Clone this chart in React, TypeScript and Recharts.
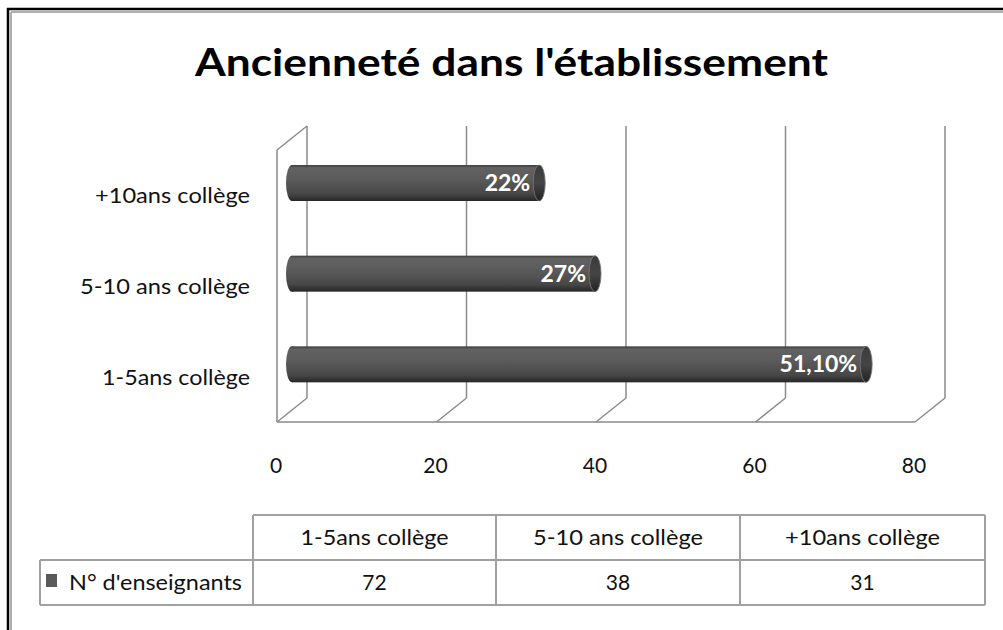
import React from 'react';
import { BarChart, Bar, XAxis, YAxis, CartesianGrid, LabelList } from 'recharts';

// ---- data ----
const categories = ['1-5ans collège', '5-10 ans collège', '+10ans collège'];
const teacherCounts = [72, 38, 31];
const percentLabels = ['51,10%', '27%', '22%'];
const xTicks = [0, 20, 40, 60, 80];
const seriesName = "N° d'enseignants";
const chartTitle = "Ancienneté dans l'établissement";

const data = categories.map((c, i) => ({ cat: c, value: teacherCounts[i], pct: percentLabels[i] }));

// ---- styling ----
const FONT = 'Lato, "Open Sans", sans-serif';
const DX = 15; // half depth offset x
const DY = 12; // half depth offset y
const GRID = '#8a8a8a';
const catWidths: Record<string, number> = {
  '1-5ans collège': 148,
  '5-10 ans collège': 170,
  '+10ans collège': 155,
};

const gridLine = (p: any) => {
  const { x1, y1, y2, x, width, index } = p;
  const first = Math.abs(x1 - x) < 0.5;
  return (
    <g key={`vg-${index}`}>
      <line x1={x1 + DX} y1={y1 - DY} x2={x1 + DX} y2={y2 - DY} stroke={GRID} strokeWidth={1.5} />
      <line x1={x1 + DX} y1={y2 - DY} x2={x1 - DX} y2={y2 + DY} stroke={GRID} strokeWidth={1.5} />
      {first && (
        <g>
          <line x1={x1 - DX} y1={y1 + DY} x2={x1 - DX} y2={y2 + DY} stroke={GRID} strokeWidth={1.5} />
          <line x1={x1 - DX} y1={y1 + DY} x2={x1 + DX} y2={y1 - DY} stroke={GRID} strokeWidth={1.5} />
          <line x1={x1 - DX} y1={y2 + DY} x2={x + width - DX} y2={y2 + DY} stroke={GRID} strokeWidth={1.5} />
        </g>
      )}
    </g>
  );
};

const XTick = (p: any) => (
  <text x={p.x - DX - 1} y={473} textAnchor="middle" fontFamily={FONT} fontSize={21} fill="#111">
    {p.payload.value}
  </text>
);

const YTick = (p: any) => {
  const v = p.payload.value as string;
  return (
    <text
      x={250}
      y={p.y + DY + 8}
      textAnchor="end"
      fontFamily={FONT}
      fontSize={21}
      fill="#111"
      textLength={catWidths[v]}
      lengthAdjust="spacingAndGlyphs"
    >
      {v}
    </text>
  );
};

const Cylinder = (p: any) => {
  const { x, y, width, height, index } = p;
  const r = 6;
  const ry = height / 2;
  const cy = y + ry;
  const bid = `cylBody${index}`;
  const cid = `cylCap${index}`;
  return (
    <g>
      <defs>
        <linearGradient id={bid} x1="0" y1="0" x2="0" y2="1">
          <stop offset="0" stopColor="#3e3e3e" />
          <stop offset="0.08" stopColor="#626262" />
          <stop offset="0.4" stopColor="#5b5b5b" />
          <stop offset="0.8" stopColor="#474747" />
          <stop offset="1" stopColor="#262626" />
        </linearGradient>
        <linearGradient id={cid} x1="0" y1="0" x2="0" y2="1">
          <stop offset="0" stopColor="#3a3a3a" />
          <stop offset="0.5" stopColor="#454545" />
          <stop offset="1" stopColor="#222" />
        </linearGradient>
      </defs>
      <ellipse cx={x} cy={cy} rx={r} ry={ry} fill={`url(#${bid})`} />
      <rect x={x} y={y} width={width} height={height} fill={`url(#${bid})`} />
      <ellipse cx={x + width} cy={cy} rx={r} ry={ry} fill={`url(#${cid})`} stroke="#7a7a7a" strokeWidth={0.8} />
    </g>
  );
};

const PctLabel = (p: any) => {
  const { x, y, width, height, value } = p;
  return (
    <text
      x={x + width - 9}
      y={y + height / 2 + 8}
      textAnchor="end"
      fill="#ffffff"
      fontFamily={FONT}
      fontWeight={700}
      fontSize={23}
    >
      {value}
    </text>
  );
};

// table geometry (styling)
const colEdges = [253, 496, 740, 985];
const rowTop = 515;
const rowMid = 560;
const rowBot = 605;
const tableLeft = 40;
const TB = '#a0a0a0';

export default function App() {
  return (
    <div style={{ position: 'absolute', left: 0, top: 0, width: 1003, height: 630, background: '#fff', overflow: 'hidden' }}>
      <svg width={1003} height={630} style={{ position: 'absolute', left: 0, top: 0 }}>
        {/* frame */}
        <line x1={7} y1={9} x2={1003} y2={9} stroke="#000" strokeWidth={2.5} />
        <line x1={8} y1={8} x2={8} y2={630} stroke="#000" strokeWidth={2.5} />
        <line x1={11} y1={12} x2={1003} y2={12} stroke="#b0b0b0" strokeWidth={2} />
        <line x1={11} y1={12} x2={11} y2={630} stroke="#b0b0b0" strokeWidth={2} />
        {/* title */}
        <text
          x={195}
          y={76}
          fontFamily={FONT}
          fontWeight={700}
          fontSize={38}
          fill="#000"
          textLength={633}
          lengthAdjust="spacingAndGlyphs"
        >
          {chartTitle}
        </text>
        {/* data table */}
        <line x1={colEdges[0]} y1={rowTop} x2={colEdges[3]} y2={rowTop} stroke={TB} strokeWidth={2} />
        <line x1={tableLeft} y1={rowMid} x2={colEdges[3]} y2={rowMid} stroke={TB} strokeWidth={2} />
        <line x1={tableLeft} y1={rowBot} x2={colEdges[3]} y2={rowBot} stroke={TB} strokeWidth={2} />
        <line x1={tableLeft} y1={rowMid} x2={tableLeft} y2={rowBot} stroke={TB} strokeWidth={2} />
        {colEdges.map((cx) => (
          <line key={cx} x1={cx} y1={rowTop} x2={cx} y2={rowBot} stroke={TB} strokeWidth={2} />
        ))}
        {categories.map((c, i) => (
          <text
            key={c}
            x={(colEdges[i] + colEdges[i + 1]) / 2}
            y={545}
            textAnchor="middle"
            fontFamily={FONT}
            fontSize={21}
            fill="#111"
            textLength={catWidths[c]}
            lengthAdjust="spacingAndGlyphs"
          >
            {c}
          </text>
        ))}
        <rect x={46} y={574} width={11} height={13} fill="#5a5a5a" />
        <text x={69} y={590} fontFamily={FONT} fontSize={21} fill="#111" textLength={173} lengthAdjust="spacingAndGlyphs">
          {seriesName}
        </text>
        {teacherCounts.map((v, i) => (
          <text
            key={i}
            x={(colEdges[i] + colEdges[i + 1]) / 2}
            y={590}
            textAnchor="middle"
            fontFamily={FONT}
            fontSize={21}
            fill="#111"
          >
            {v}
          </text>
        ))}
      </svg>
      <div style={{ position: 'absolute', left: 0, top: 0 }}>
        <BarChart
          width={1003}
          height={630}
          data={data}
          layout="vertical"
          margin={{ top: 138, right: 73, bottom: 190, left: 0 }}
        >
          <CartesianGrid horizontal={false} vertical={gridLine} />
          <XAxis
            type="number"
            domain={[0, 80]}
            ticks={xTicks}
            height={30}
            axisLine={false}
            tickLine={false}
            tick={<XTick />}
            interval={0}
          />
          <YAxis
            type="category"
            dataKey="cat"
            width={292}
            reversed
            axisLine={false}
            tickLine={false}
            tick={<YTick />}
            interval={0}
          />
          <Bar dataKey="value" barSize={36} shape={<Cylinder />} isAnimationActive={false}>
            <LabelList dataKey="pct" content={<PctLabel />} />
          </Bar>
        </BarChart>
      </div>
    </div>
  );
}
